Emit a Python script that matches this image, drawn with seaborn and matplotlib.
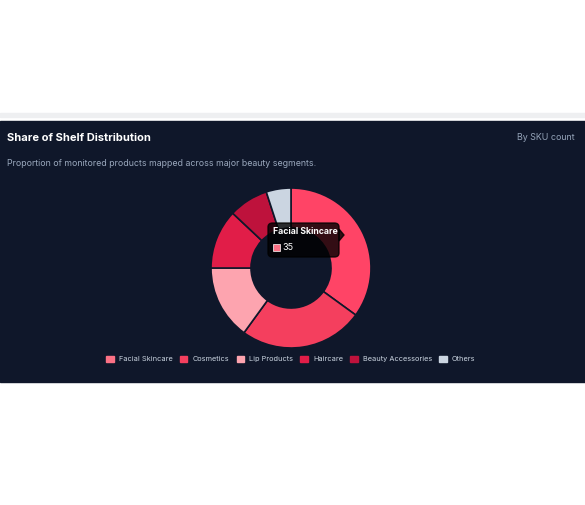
"""
Share of shelf donut chart (dark card)
"""

import matplotlib
matplotlib.use("Agg")
import matplotlib.pyplot as plt
from matplotlib.patches import Rectangle, FancyBboxPatch, Polygon
import seaborn as sns

# data
segments = ["Facial Skincare", "Cosmetics", "Lip Products", "Haircare",
            "Beauty Accessories", "Others"]
sku_counts = [35, 25, 15, 12, 8, 5]
legend_colors = ["#fb7185", "#f43f5e", "#fda4af", "#e11d48", "#be123c", "#cbd5e1"]
slice_colors = ["#ff4466", "#f43f5e", "#fda4af", "#e11d48", "#be123c", "#cbd5e1"]
hover_label = "Facial Skincare"
hover_value = 35

title = "Share of Shelf Distribution"
subtitle = "Proportion of monitored products mapped across major beauty segments."
badge = "By SKU count"

sns.set_theme(style="white")
plt.rcParams["font.family"] = ["Inter", "DejaVu Sans"]

W, H = 585, 505
fig = plt.figure(figsize=(W / 100, H / 100), dpi=100)
fig.patch.set_facecolor("white")

def fx(px):
    return px / W

def fy(py):
    return 1 - py / H

# separator strip and dark card
fig.patches.append(Rectangle((0, fy(117)), 1, (117 - 113) / H,
                             transform=fig.transFigure, color="#eeeff1", zorder=-2))
fig.patches.append(Rectangle((0, fy(382)), 1, (382 - 121) / H,
                             transform=fig.transFigure, color="#0f172a", zorder=-2))

fig.text(fx(7), fy(138), title, color="white", fontsize=8.0, fontweight="bold",
         va="center", ha="left")
fig.text(fx(575), fy(138), badge, color="#94a3b8", fontsize=6.4,
         va="center", ha="right")
fig.text(fx(7), fy(163), subtitle, color="#9aa8bd", fontsize=6.35,
         va="center", ha="left")

# donut
cx, cy, r = 291, 268, 80
pad = 1.05
ax = fig.add_axes([fx(cx - r * pad), fy(cy + r * pad), 2 * r * pad / W, 2 * r * pad / H])
ax.set_zorder(1)
ax.patch.set_visible(False)
palette = sns.color_palette(slice_colors)
ax.pie(sku_counts, colors=palette, startangle=90, counterclock=False,
       wedgeprops=dict(width=0.5, edgecolor="#0f172a", linewidth=1.2))
ax.set_xlim(-pad, pad)
ax.set_ylim(-pad, pad)
ax.set_aspect("equal")
ax.axis("off")

# tooltip
tx0, ty0, tx1, ty1 = 268, 223, 339, 257
fig.patches.append(FancyBboxPatch((fx(tx0), fy(ty1)), fx(tx1 - tx0), (ty1 - ty0) / H,
                                  boxstyle="round,pad=0,rounding_size=0.008",
                                  transform=fig.transFigure, color="black",
                                  alpha=0.8, zorder=5))
fig.patches.append(Polygon([(fx(tx1), fy(229)), (fx(tx1 + 5), fy(235)), (fx(tx1), fy(241))],
                           closed=True, transform=fig.transFigure, color="black",
                           alpha=0.8, zorder=5))
fig.text(fx(273), fy(232), hover_label, color="white", fontsize=6.3,
         fontweight="bold", va="center", ha="left", zorder=6)
fig.patches.append(Rectangle((fx(273), fy(251)), fx(7), 7 / H, transform=fig.transFigure,
                             facecolor=legend_colors[0], edgecolor="white",
                             linewidth=0.5, zorder=6))
fig.text(fx(282), fy(247), str(hover_value), color="white", fontsize=6.5,
         va="center", ha="left", zorder=6)

# legend
handles = [Rectangle((0, 0), 1, 1, color=c) for c in legend_colors]
fig.legend(handles, segments, loc="center", bbox_to_anchor=(fx(291), fy(359)),
           ncol=len(segments), frameon=False, fontsize=5.3, labelcolor="#cbd5e1",
           handlelength=1.0, handleheight=1.0, handletextpad=0.7, columnspacing=1.0)

fig.savefig("out.png", dpi=100, facecolor=fig.get_facecolor())
